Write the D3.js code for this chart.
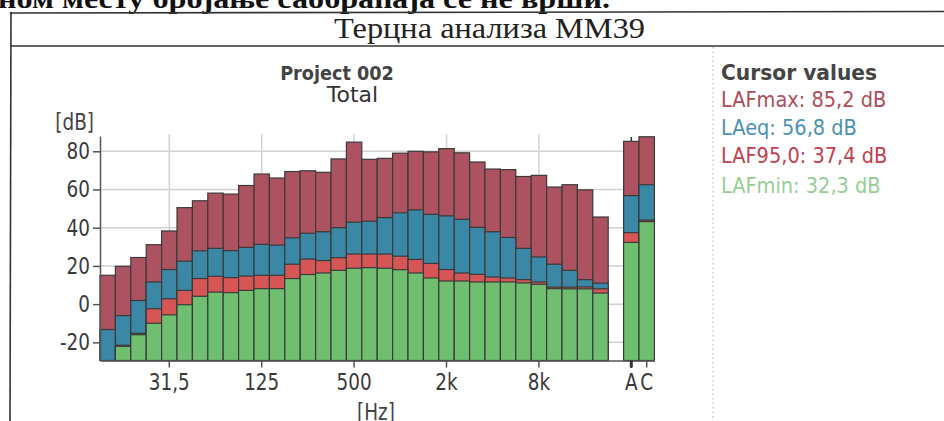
<!DOCTYPE html>
<html><head><meta charset="utf-8">
<script src="https://cdn.jsdelivr.net/npm/d3@7"></script>
<style>body{margin:0;background:#fff}svg{display:block}</style>
</head><body><svg id="c" width="944" height="421"></svg>
<script>
// ---- data ----
const bands = ["12,5","16","20","25","31,5","40","50","63","80","100","125","160","200","250","315","400","500","630","800","1k","1,25k","1,6k","2k","2,5k","3,15k","4k","5k","6,3k","8k","10k","12,5k","16k","20k","A","C"];
const lafMax = [15.1,19.8,24.4,31.1,38.3,50.5,54.1,58.1,57.6,62.1,68.1,66.0,69.4,69.8,69.0,76.0,84.8,75.8,76.3,79.0,80.0,79.7,81.4,79.2,74.4,70.7,70.4,66.8,67.4,61.3,62.5,59.8,45.6,85.2,87.6];
const laeq   = [-13.3,-6.0,1.9,11.6,18.1,22.5,27.9,29.2,28.0,29.7,31.3,30.9,34.7,37.1,37.9,40.0,42.9,43.4,45.3,47.8,49.3,47.0,46.2,44.4,40.2,37.9,34.9,29.2,24.7,20.9,17.7,12.8,11.0,56.8,62.5];
const laf95  = [-31,-21.5,-15.3,-2.4,2.8,7.2,13.4,14.6,13.9,14.7,15.1,15.1,20.9,23.6,22.8,24.3,26.2,26.2,26.2,25.1,23.4,21.3,18.1,16.3,15.6,14.2,13.7,12.8,11.6,8.9,8.9,9.0,8.0,37.4,44.0];
const lafMin = [-31,-22.1,-16.0,-10.0,-5.6,-0.3,4.1,6.3,6.0,7.2,8.1,8.1,13.4,15.5,16.3,17.7,18.8,19.1,18.8,18.0,16.3,13.7,12.1,12.1,11.6,11.6,11.6,11.1,10.4,8.1,8.0,8.0,5.8,32.3,43.2];
const yTicks = [-20,0,20,40,60,80];
const xTickLabels = ["31,5","125","500","2k","8k","A","C"];
const gridBands = ["31,5","125","500","2k","8k"];
const legendNames = ["LAFmax","LAeq","LAF95,0","LAFmin"];
const cursorValues = ["85,2","56,8","37,4","32,3"];

// ---- styles ----
const seriesColors = ["#ad5260","#3a87a6","#d65656","#70bf70"];
const legendColors = ["#b04c5a","#4a92b2","#c4404f","#94cf94"];
const SANS = "DejaVu Sans";

const svg = d3.select("#c");
svg.append("rect").attr("width",944).attr("height",421).attr("fill","#fff");

function txt(parent, x, y, s, o) {
  const g = parent.append("g").attr("transform", `translate(${x},${y}) scale(${o.sx||1},1)`);
  const t = g.append("text").attr("x",0).attr("y",0)
    .attr("font-family", o.family||SANS).attr("font-size", o.size||21)
    .attr("font-weight", o.weight||"normal").attr("fill", o.fill||"#333")
    .attr("text-anchor", o.anchor||"start").text(s);
  if (o.len) t.attr("textLength", o.len).attr("lengthAdjust","spacingAndGlyphs");
  return t;
}

// document text and table
txt(svg, -2, 7.5, "ном месту бројање саобраћаја се не врши.", {family:"Liberation Serif", weight:"bold", size:28, fill:"#111", len:612});
const lines = [[10,13,944,11.5],[10,46,944,46],[11,12,10,421]];
svg.selectAll("line.tbl").data(lines).join("line").attr("class","tbl")
  .attr("x1",d=>d[0]).attr("y1",d=>d[1]).attr("x2",d=>d[2]).attr("y2",d=>d[3])
  .attr("stroke","#333").attr("stroke-width",1.6);
txt(svg, 489.5, 38, "Терцна анализа ММ39", {family:"Liberation Serif", size:29, fill:"#222", anchor:"middle", len:311});
svg.append("line").attr("x1",713).attr("x2",713).attr("y1",47).attr("y2",421)
  .attr("stroke","#aaa").attr("stroke-width",1).attr("stroke-dasharray","1.5,3");

// ---- scales ----
const domain = bands.slice(0,33).concat(["gap"], bands.slice(33));
const x = d3.scaleBand().domain(domain).range([100, 100 + 36*15.4]).padding(0);
const y = d3.scaleLinear().domain([-29.5, 88]).range([360.5, 136]).clamp(true);
const bw = x.bandwidth();
const plotRight = 100 + 36*15.4;

// grid
svg.append("g").selectAll("line").data(yTicks).join("line")
  .attr("x1",100).attr("x2",plotRight).attr("y1",d=>y(d)).attr("y2",d=>y(d))
  .attr("stroke","#d2d2d2").attr("stroke-width",1.5);
svg.append("g").selectAll("line").data(gridBands).join("line")
  .attr("x1",d=>x(d)+bw/2).attr("x2",d=>x(d)+bw/2).attr("y1",134).attr("y2",360.5)
  .attr("stroke","#d2d2d2").attr("stroke-width",1.5);
// cursor
svg.append("line").attr("x1",x("A")+bw/2).attr("x2",x("A")+bw/2).attr("y1",137).attr("y2",368)
  .attr("stroke","#333").attr("stroke-width",1.5);

// bars
const series = [lafMax, laeq, laf95, lafMin];
series.forEach((vals, si) => {
  svg.append("g").selectAll("rect").data(vals.map((v,i)=>({b:bands[i], v}))).join("rect")
    .attr("x", d=>x(d.b)).attr("width", bw)
    .attr("y", d=>y(d.v)).attr("height", d=>Math.max(0, y.range()[0]-y(d.v)))
    .attr("fill", seriesColors[si]).attr("stroke","#3a3a3a").attr("stroke-width",1.2);
});

// axes
const SX = 0.8, FS = 23;
const ya = svg.append("g").attr("transform","translate(100,0)")
  .call(d3.axisLeft(y).tickValues(yTicks).tickSize(7).tickSizeOuter(0).tickPadding(3).tickFormat(d=>String(d)));
const xa = svg.append("g").attr("transform","translate(0,360.5)")
  .call(d3.axisBottom(x).tickValues(xTickLabels).tickSize(7).tickSizeOuter(0).tickPadding(6));
[ya, xa].forEach(a => {
  a.select(".domain").attr("stroke","#555").attr("stroke-width",1.5);
  a.selectAll(".tick line").attr("stroke","#555").attr("stroke-width",1.5);
  a.selectAll(".tick text").attr("font-family",SANS).attr("font-size",FS).attr("fill","#3a3a3a");
});
ya.selectAll(".tick text").each(function(){
  const t = d3.select(this); t.attr("x", +t.attr("x")/SX).attr("transform",`scale(${SX},1)`);
});
xa.selectAll(".tick text").attr("transform",`scale(${SX},1)`);
xa.selectAll(".tick").filter(d=>d==="A").select("line").attr("stroke-width",3).attr("stroke","#333");

// labels
txt(svg, 94, 130, "[dB]", {size:FS, sx:SX, anchor:"end", fill:"#444"});
txt(svg, 376, 420, "[Hz]", {size:FS, sx:SX, anchor:"middle", fill:"#444"});
txt(svg, 337, 80, "Project 002", {size:19, sx:0.93, weight:"bold", anchor:"middle", fill:"#444"});
txt(svg, 352.5, 102, "Total", {size:22, anchor:"middle", fill:"#333"});

// cursor panel
txt(svg, 721, 80, "Cursor values", {size:22, sx:0.92, weight:"bold", fill:"#444"});
const legBase = [107.3, 135, 163.3, 192.7];
legendNames.forEach((n,i) => {
  txt(svg, 721, legBase[i], `${n}: ${cursorValues[i]} dB`, {size:22, sx:0.88, fill:legendColors[i]});
});
</script></body></html>
